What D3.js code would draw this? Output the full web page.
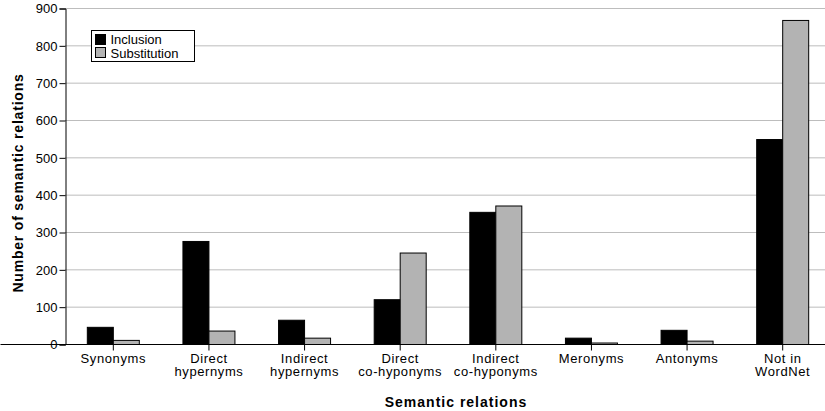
<!DOCTYPE html>
<html><head><meta charset="utf-8">
<script src="https://cdn.jsdelivr.net/npm/d3@7"></script>
<style>body{margin:0;background:#fff}svg{display:block}</style>
</head><body>
<script>
const categories = [["Synonyms"],["Direct","hypernyms"],["Indirect","hypernyms"],["Direct","co-hyponyms"],["Indirect","co-hyponyms"],["Meronyms"],["Antonyms"],["Not in","WordNet"]];
const seriesNames = ["Inclusion","Substitution"];
const inclusion = [46, 276, 65, 120, 354, 17, 38, 549];
const substitution = [11, 36, 17, 245, 371, 4, 9, 868];
const yTicks = [0,100,200,300,400,500,600,700,800,900];
const colors = ["#000000","#b3b3b3"];

const W = 825, H = 411;
const FONT = "'Liberation Sans', Arial, sans-serif";
const svg = d3.select("body").append("svg").attr("width", W).attr("height", H)
  .style("font-family", FONT);

const x = d3.scaleBand().domain(d3.range(categories.length)).range([65, 830]).paddingInner(0).paddingOuter(0);
const y = d3.scaleLinear().domain([0, 900]).range([344, 8]);
const inner = d3.scaleBand().domain([0,1]).range([0, 52]);
const off = (x.bandwidth() - 52) / 2;

// gridlines
svg.append("g").selectAll("line").data(yTicks.slice(1)).join("line")
  .attr("x1", 65).attr("x2", W).attr("y1", d => y(d)+0.5).attr("y2", d => y(d)+0.5)
  .attr("stroke", "#bdbdbd").attr("stroke-width", 1);

// bars
const series = [inclusion, substitution];
series.forEach((vals, si) => {
  svg.append("g").selectAll("rect").data(vals).join("rect")
    .attr("x", (d, i) => x(i) + off + inner(si) + 0.5)
    .attr("y", d => y(d) + 0.5)
    .attr("width", inner.bandwidth())
    .attr("height", d => y(0) - y(d))
    .attr("fill", colors[si]).attr("stroke", "#000").attr("stroke-width", 1);
});

// y axis
const ya = d3.axisLeft(y).tickValues(yTicks).tickSize(6).tickPadding(2).tickFormat(d3.format("d"));
const gy = svg.append("g").attr("transform", "translate(65.5,0.5)").call(ya);
gy.select(".domain").attr("stroke", "#000");
gy.selectAll(".tick line").attr("stroke", "#000");
gy.selectAll("text").attr("font-size", 13).attr("fill", "#000").attr("font-family", FONT);

// x axis
const xa = d3.axisBottom(x).tickSize(6).tickFormat("");
const gx = svg.append("g").attr("transform", "translate(0.5,344.5)").call(xa);
gx.select(".domain").attr("d", `M0,0H${W}`).attr("stroke", "#000");
gx.selectAll(".tick line").attr("stroke", "#000");
gx.selectAll(".tick").each(function(d) {
  const t = d3.select(this).append("text").attr("fill", "#000").attr("text-anchor", "middle")
    .attr("font-size", 13).attr("letter-spacing", 0.6).attr("font-family", FONT);
  categories[d].forEach((line, li) => {
    t.append("tspan").attr("x", 0).attr("y", 18 + li * 13.5).text(line);
  });
});

// axis titles
svg.append("text").attr("x", 456).attr("y", 407).attr("text-anchor", "middle")
  .attr("font-size", 14).attr("font-weight", "bold").attr("letter-spacing", 1).text("Semantic relations");
svg.append("text").attr("transform", "translate(23,183) rotate(-90)").attr("text-anchor", "middle")
  .attr("font-size", 14).attr("font-weight", "bold").attr("letter-spacing", 0.8).text("Number of semantic relations");

// legend
const lg = svg.append("g").attr("transform", "translate(91.5,30.5)");
lg.append("rect").attr("width", 103).attr("height", 31).attr("fill", "#fff").attr("stroke", "#000");
seriesNames.forEach((n, i) => {
  lg.append("rect").attr("x", 4).attr("y", 4 + i * 13).attr("width", 10).attr("height", 10)
    .attr("fill", colors[i]).attr("stroke", "#000");
  lg.append("text").attr("x", 19).attr("y", 13.5 + i * 13.5).attr("font-size", 13).attr("fill", "#000").text(n);
});
</script>
</body></html>
